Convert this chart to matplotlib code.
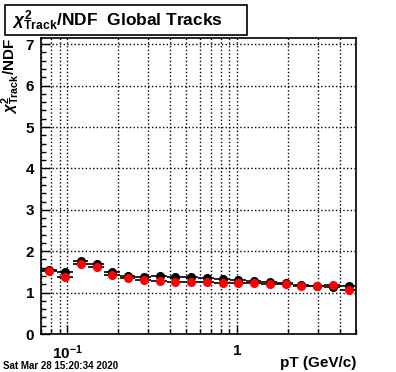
import numpy as np
import matplotlib
matplotlib.use("Agg")
import matplotlib.pyplot as plt
from matplotlib.patches import Rectangle
from matplotlib.ticker import LogLocator, MultipleLocator, NullFormatter, FuncFormatter

plt.rcParams['font.family'] = ['Liberation Sans', 'DejaVu Sans']
plt.rcParams['font.weight'] = 'bold'
plt.rcParams['mathtext.fontset'] = 'custom'
plt.rcParams['mathtext.rm'] = 'Liberation Sans:bold'
plt.rcParams['mathtext.bf'] = 'Liberation Sans:bold'
plt.rcParams['mathtext.it'] = 'Liberation Sans:italic'

# pT bin edges (GeV/c), 20 log bins
pt_edges = [0.07, 0.0867, 0.1073, 0.1328, 0.1644, 0.2035, 0.2519, 0.3118,
            0.3860, 0.4778, 0.5915, 0.7322, 0.9064, 1.1221, 1.3890, 1.7194,
            2.1285, 2.6348, 3.2617, 4.0376, 5.0]

# chi2/NDF per bin, two track samples
chi2_black = [1.55, 1.49, 1.76, 1.68, 1.49, 1.41, 1.38, 1.40, 1.37, 1.37,
              1.35, 1.32, 1.30, 1.28, 1.26, 1.24, 1.19, 1.17, 1.14, 1.17]
chi2_red = [1.51, 1.37, 1.69, 1.63, 1.43, 1.35, 1.31, 1.28, 1.26, 1.26,
            1.26, 1.23, 1.24, 1.24, 1.21, 1.20, 1.16, 1.17, 1.18, 1.06]

edges = np.array(pt_edges)
centers = (edges[:-1] + edges[1:]) / 2
xerr = [centers - edges[:-1], edges[1:] - centers]

fig = plt.figure(figsize=(3.96, 3.72), dpi=100)
ax = fig.add_axes([41/396, 1 - 334/372, 315/396, 296/372])

ax.errorbar(centers, chi2_black, xerr=xerr, fmt='o', color='black',
            ecolor='black', elinewidth=1.2, markersize=5.5, capsize=0, zorder=3)
ax.errorbar(centers, chi2_red, xerr=xerr, fmt='o', color='red',
            ecolor='black', elinewidth=1.2, markersize=5.5, capsize=0, zorder=4)

ax.set_xscale('log')
ax.set_xlim(0.07, 5.0)
ax.set_ylim(0, 7.15)


def log_label(v, pos):
    if abs(v - 1) < 1e-9:
        return '1'
    return r'$\mathbf{10^{%d}}$' % int(round(np.log10(v)))


ax.xaxis.set_major_locator(LogLocator(base=10, numticks=10))
ax.xaxis.set_major_formatter(FuncFormatter(log_label))
ax.xaxis.set_minor_locator(LogLocator(base=10, subs=np.arange(2, 10), numticks=20))
ax.xaxis.set_minor_formatter(NullFormatter())
ax.yaxis.set_major_locator(MultipleLocator(1))
ax.yaxis.set_minor_locator(MultipleLocator(0.2))

ax.tick_params(axis='both', which='major', direction='in', length=6.5,
               width=1, labelsize=11, pad=5)
ax.tick_params(axis='both', which='minor', direction='in', length=3.5, width=1)
ax.tick_params(axis='x', which='major', pad=7)
for lab in ax.get_xticklabels() + ax.get_yticklabels():
    lab.set_fontweight('bold')

ax.grid(True, which='major', axis='y', color='black', linestyle=':', linewidth=1)
ax.grid(True, which='both', axis='x', color='black', linestyle=':', linewidth=1)
for s in ax.spines.values():
    s.set_linewidth(1.2)

ax.set_xlabel('pT (GeV/c)', fontsize=11, fontweight='bold')
ax.xaxis.set_label_coords(1.0, -0.075)
ax.xaxis.label.set_horizontalalignment('right')
ax.set_ylabel(r'$\chi^{2}_{\mathrm{Track}}$/NDF', fontsize=11, fontweight='bold')
ax.yaxis.set_label_coords(-0.095, 1.0)
ax.yaxis.label.set_verticalalignment('center')
ax.yaxis.label.set_horizontalalignment('right')

# title box
fig.patches.append(Rectangle((5/396, 1 - 35/372), 242/396, 30/372,
                             transform=fig.transFigure, facecolor='white',
                             edgecolor='black', linewidth=1.2))
fig.text(12/396, 1 - 21/372, r'$\chi^{2}_{\mathrm{Track}}$/NDF  Global Tracks',
         fontsize=12.5, fontweight='bold', va='center', ha='left')

fig.text(3/396, 1 - 366/372, 'Sat Mar 28 15:20:34 2020', fontsize=7,
         fontweight='bold', va='center', ha='left')

fig.savefig('out.png', dpi=100)
